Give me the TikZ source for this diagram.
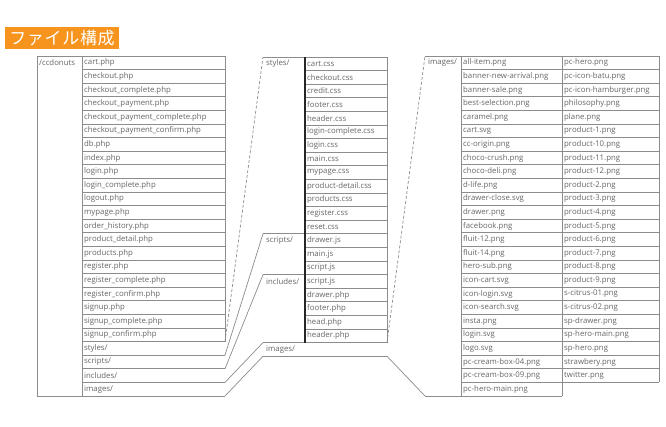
\documentclass[tikz,border=0pt]{standalone}
\usepackage{fontspec}
\setmainfont{Open Sans}
\newfontfamily\cjk[LetterSpace=4]{Noto Sans CJK JP}
\definecolor{ttl}{HTML}{F7941E}
\definecolor{txt}{HTML}{666666}
\definecolor{ln}{HTML}{8C8C8C}
\tikzset{
  cell/.style={anchor=west, inner sep=0pt, text=txt, font=\fontsize{7.8}{8}\selectfont},
  grid/.style={draw=ln, line width=0.7pt},
  colsep/.style={draw=black!85, line width=1.4pt},
  callout/.style={draw=ln, line width=0.7pt},
  calloutdash/.style={callout, dash pattern=on 3pt off 2pt},
  titlebox/.style={fill=ttl, text=white, inner sep=0pt, minimum width=114pt, minimum height=21.5pt, font=\cjk\fontsize{17}{18}\selectfont}
}
\begin{document}
\begin{tikzpicture}[x=1pt, y={(0pt,-1pt)}]
\def\hr{13.6}
\useasboundingbox (0,0) rectangle (666,426);
\fill[white] (0,0) rectangle (666,426);
% title
\node[titlebox] (title) at (62,37.8) {ファイル構成};

% ---------------- left table ----------------
\foreach \f [count=\i from 0] in {cart.php, checkout.php, checkout\_complete.php, checkout\_payment.php, checkout\_payment\_complete.php, checkout\_payment\_confirm.php, db.php, index.php, login.php, login\_complete.php, logout.php, mypage.php, order\_history.php, product\_detail.php, products.php, register.php, register\_complete.php, register\_confirm.php, signup.php, signup\_complete.php, signup\_confirm.php, styles/, scripts/, includes/, images/}
  \node[cell] (l\i) at (84,{56+\i*\hr+\hr/2}) {\f};
\node[cell] (root) at (39,{56+\hr/2}) {/ccdonuts};
\foreach \i in {0,...,25}
  \draw[grid] (82,{56+\i*\hr}) -- (225,{56+\i*\hr});
\draw[grid] (37,56) -- (82,56);
\draw[grid] (37,{56+25*\hr}) -- (82,{56+25*\hr});
\draw[grid] (37,56) -- (37,{56+25*\hr});
\draw[grid] (82,56) -- (82,{56+25*\hr});
\draw[grid] (225,56) -- (225,{56+21*\hr});
\coordinate (Lst) at (225,{56+21*\hr});
\coordinate (Lsc) at (225,{56+22*\hr});
\coordinate (Lin) at (225,{56+23*\hr});
\coordinate (Lim) at (225,{56+24*\hr});
\coordinate (Lend) at (225,{56+25*\hr});

% ---------------- middle table ----------------
\foreach \f [count=\j from 0] in {cart.css, checkout.css, credit.css, footer.css, header.css, login-complete.css, login.css, main.css, mypage.css, product-detail.css, products.css, register.css, reset.css, drawer.js, main.js, script.js, script.js, drawer.php, footer.php, head.php, header.php}
  \node[cell] (m\j) at (307,{57+\j*\hr+\hr/2}) {\f};
\foreach \j in {0,...,21}
  \draw[grid] (305,{57+\j*\hr}) -- (387,{57+\j*\hr});
\foreach \j in {0,13,16,21}
  \draw[grid] (263,{57+\j*\hr}) -- (305,{57+\j*\hr});
\draw[grid] (263,{57+22*\hr}) -- (387,{57+22*\hr});
\draw[grid] (387,57) -- (387,{57+21*\hr});
\draw[colsep] (305,57) -- (305,{57+21*\hr});
\node[cell] (mst) at (266,{57+\hr/2}) {styles/};
\node[cell] (msc) at (266,{57+13*\hr+\hr/2}) {scripts/};
\node[cell] (min) at (266,{57+16*\hr+\hr/2}) {includes/};
\node[cell] (mim) at (266,{57+21*\hr+\hr/2}) {images/};
\coordinate (Mst) at (263,57);
\coordinate (Msc) at (263,{57+13*\hr});
\coordinate (Min) at (263,{57+16*\hr});
\coordinate (Mim) at (263,{57+21*\hr});
\coordinate (Mend) at (263,{57+22*\hr});
\coordinate (MRa) at (387,{57+21*\hr});
\coordinate (MRb) at (387,{57+22*\hr});

% ---------------- right table ----------------
\foreach \f [count=\k from 0] in {all-item.png, banner-new-arrival.png, banner-sale.png, best-selection.png, caramel.png, cart.svg, cc-origin.png, choco-crush.png, choco-deli.png, d-life.png, drawer-close.svg, drawer.png, facebook.png, fluit-12.png, fluit-14.png, hero-sub.png, icon-cart.svg, icon-login.svg, icon-search.svg, insta.png, login.svg, logo.svg, pc-cream-box-04.png, pc-cream-box-09.png, pc-hero-main.png}
  \node[cell] (ra\k) at (463,{56+\k*\hr+\hr/2}) {\f};
\foreach \f [count=\k from 0] in {pc-hero.png, pc-icon-batu.png, pc-icon-hamburger.png, philosophy.png, plane.png, product-1.png, product-10.png, product-11.png, product-12.png, product-2.png, product-3.png, product-4.png, product-5.png, product-6.png, product-7.png, product-8.png, product-9.png, s-citrus-01.png, s-citrus-02.png, sp-drawer.png, sp-hero-main.png, sp-hero.png, strawbery.png, twitter.png}
  \node[cell] (rb\k) at (564,{56+\k*\hr+\hr/2}) {\f};
\node[cell] (rim) at (428,{56+\hr/2}) {images/};
\draw[grid] (425,56) -- (659,56);
\foreach \k in {1,...,24}
  \draw[grid] (461,{56+\k*\hr}) -- (659,{56+\k*\hr});
\draw[grid] (425,{56+25*\hr}) -- (562,{56+25*\hr});
\draw[grid] (461,56) -- (461,{56+25*\hr});
\draw[grid] (562,56) -- (562,{56+25*\hr});
\draw[grid] (659,56) -- (659,{56+24*\hr});
\coordinate (Rtop) at (425,56);
\coordinate (Rbot) at (425,{56+25*\hr});

% ---------------- callouts ----------------
\draw[calloutdash] (Lst) -- (Mst);
\draw[callout] (Lsc) -- (Msc);
\draw[callout] (Lin) -- (Min);
\draw[callout] (Lim) -- (Mim);
\draw[callout] (Lend) -- (Mend);
\draw[calloutdash] (MRa) -- (Rtop);
\draw[callout] (MRb) -- (Rbot);
\end{tikzpicture}
\end{document}
